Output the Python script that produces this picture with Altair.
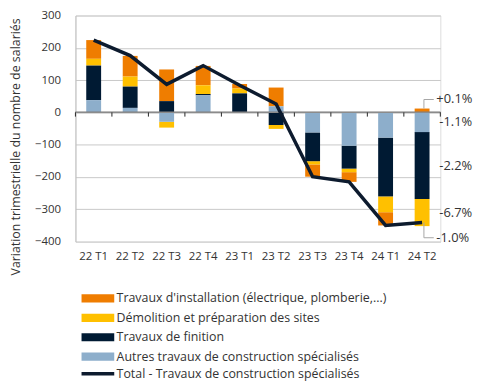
import altair as alt
import pandas as pd

# ---------------- data ----------------
cats = ["22 T1", "22 T2", "22 T3", "22 T4", "23 T1", "23 T2", "23 T3", "23 T4", "24 T1", "24 T2"]

series_names = [
    "Travaux d'installation (électrique, plomberie,...)",
    "Démolition et préparation des sites",
    "Travaux de finition",
    "Autres travaux de construction spécialisés",
]
installation = [58, 64, 98, 60, 14, 58, -38, -30, -41, 12]
demolition = [21, 31, -18, 27, 15, -12, -10, -11, -49, -84]
finition = [107, 66, 35, 4, 58, -39, -89, -71, -182, -207]
autres = [38, 14, -29, 53, 1, 19, -62, -103, -78, -61]

total_name = "Total - Travaux de construction spécialisés"
total = [224, 176, 87, 145, 84, 26, -199, -215, -350, -341]

# percentage labels for the last quarter (same order as series_names)
pct_labels = ["+0.1%", "-6.7%", "-2.2%", "-1.1%"]
total_pct = "-1.0%"

colors = ["#EF7D00", "#FFC000", "#001A33", "#8DAECB"]
line_color = "#0D1B2E"
FONT = "Open Sans"
TXT = "#333333"

# ---------------- tables ----------------
series_vals = [installation, demolition, finition, autres]
stack_rank = {series_names[0]: 3, series_names[1]: 2, series_names[2]: 1, series_names[3]: 0}

rows = []
for name, vals in zip(series_names, series_vals):
    for c, v in zip(cats, vals):
        rows.append({"cat": c, "serie": name, "val": v, "ord": stack_rank[name]})
bars_df = pd.DataFrame(rows)

line_df = pd.DataFrame({"cat": cats, "total": total, "name": total_name})

# label positions = middle of each stacked segment in the last quarter
last = cats[-1]
seg = bars_df[bars_df.cat == last].sort_values("ord")
pos_base, neg_base = 0.0, 0.0
mids = {}
for _, r in seg.iterrows():
    if r.val >= 0:
        lo, hi = pos_base, pos_base + r.val
        pos_base = hi
    else:
        hi, lo = neg_base, neg_base + r.val
        neg_base = lo
    mids[r.serie] = ((lo + hi) / 2, hi if r.val >= 0 else lo)

lab_df = pd.DataFrame({
    "cat": [last] * 3,
    "y": [mids[s][0] for s in series_names[1:]],
    "txt": pct_labels[1:],
})
inst_df = pd.DataFrame({"cat": [last], "y": [mids[series_names[0]][1]], "ly": [40], "txt": [pct_labels[0]]})
tot_df = pd.DataFrame({"cat": [last], "y": [total[-1]], "ly": [-388], "txt": [total_pct]})
lead_df = pd.concat([inst_df, tot_df])

ticks_df = pd.DataFrame({"cat": cats, "z": 0, "t": -13})
last_df = pd.DataFrame({"cat": [last], "z": 0, "t": -13})

xsc = alt.Scale(domain=cats, paddingInner=0, paddingOuter=0)
ysc = alt.Scale(domain=[-400, 300], nice=False)

xaxis = alt.Axis(title=None, labelAngle=0, domain=False, ticks=False,
                 labelFontSize=11.5, labelColor=TXT, labelFont=FONT,
                 labelPadding=9, grid=False)
yaxis = alt.Axis(values=list(range(-400, 301, 100)),
                 title="Variation trimestrielle du nombre de salariés",
                 titleFont=FONT, titleFontSize=12.5, titleFontWeight="normal",
                 titleColor=TXT, titleX=-60, titleY=132, titleAngle=270,
                 titleAlign="center", titleBaseline="middle",
                 labelFont=FONT, labelFontSize=11.5, labelColor=TXT,
                 labelPadding=15, ticks=False, domain=True,
                 domainColor="#BFBFBF", grid=True, gridColor="#C8C8C8")


def X(bp=0.5):
    return alt.X("cat:N", scale=xsc, sort=cats, bandPosition=bp, axis=xaxis)


def Y(field):
    return alt.Y(field, scale=ysc, axis=yaxis)


# wide rectangle symbol (layout size 8.25px, drawn 33px wide)
RECT = "M-4,-1L4,-1L4,1L-4,1Z"
STROKE = "M-4,0L4,0"

# ---------------- layers ----------------
bars = alt.Chart(bars_df).mark_bar(size=15).encode(
    x=X(),
    y=alt.Y("val:Q", scale=ysc, stack="zero", axis=yaxis),
    color=alt.Color("serie:N", scale=alt.Scale(domain=series_names, range=colors),
                    legend=alt.Legend(title=None, orient="none", legendX=16.4, legendY=279,
                                      symbolType=RECT, symbolSize=68, symbolStrokeWidth=0,
                                      labelFont=FONT, labelFontSize=12.5, labelColor=TXT,
                                      labelOffset=12.6, rowPadding=6.6, labelLimit=400)),
    order=alt.Order("ord:Q", sort="ascending"),
)

zero = alt.Chart(ticks_df).mark_rule(color="#8C8C8C", strokeWidth=1).encode(
    y=Y("z:Q"),
)

ticks = alt.Chart(ticks_df).mark_rule(color="#262626", strokeWidth=1).encode(
    x=X(0), y=Y("z:Q"), y2="t:Q",
)
tick_end = alt.Chart(last_df).mark_rule(color="#262626", strokeWidth=1).encode(
    x=X(1), y=Y("z:Q"), y2="t:Q",
)

line = alt.Chart(line_df).mark_line(strokeWidth=3.5, strokeJoin="miter").encode(
    x=X(0.5),
    y=Y("total:Q"),
    stroke=alt.Stroke("name:N", scale=alt.Scale(domain=[total_name], range=[line_color]),
                      legend=alt.Legend(title=None, orient="none", legendX=16.4, legendY=355,
                                        symbolType=STROKE, symbolSize=68,
                                        symbolStrokeWidth=3.5,
                                        labelFont=FONT, labelFontSize=12.5, labelColor=TXT,
                                        labelOffset=12.6, labelLimit=400)),
)

labels = alt.Chart(lab_df).mark_text(align="left", baseline="middle", dx=-1,
                                      font=FONT, fontSize=13, color=TXT).encode(
    x=X(1), y=Y("y:Q"), text="txt:N",
)
inst_lab = alt.Chart(inst_df).mark_text(align="left", baseline="middle", dx=-4,
                                         font=FONT, fontSize=13, color=TXT).encode(
    x=X(1), y=Y("ly:Q"), text="txt:N",
)
tot_lab = alt.Chart(tot_df).mark_text(align="left", baseline="middle", dx=-4,
                                       font=FONT, fontSize=13, color=TXT).encode(
    x=X(1), y=Y("ly:Q"), text="txt:N",
)

lead_v = alt.Chart(lead_df).mark_rule(color="#A6A6A6", strokeWidth=1).encode(
    x=X(0.55), y=Y("y:Q"), y2="ly:Q",
)
lead_h = alt.Chart(lead_df).mark_rule(color="#A6A6A6", strokeWidth=1).encode(
    x=X(0.55), x2=alt.X2("cat:N", bandPosition=0.82), y=Y("ly:Q"),
)

chart = alt.layer(bars, zero, ticks, tick_end, line, lead_v, lead_h, labels, inst_lab, tot_lab).properties(
    width=368, height=228,
    autosize=alt.AutoSizeParams(type="none"),
    padding={"left": 68, "top": 6, "right": 40, "bottom": 142},
).configure_view(stroke=None).configure(font=FONT)

chart.save("out.html", embed_options={"renderer": "svg", "actions": False})
